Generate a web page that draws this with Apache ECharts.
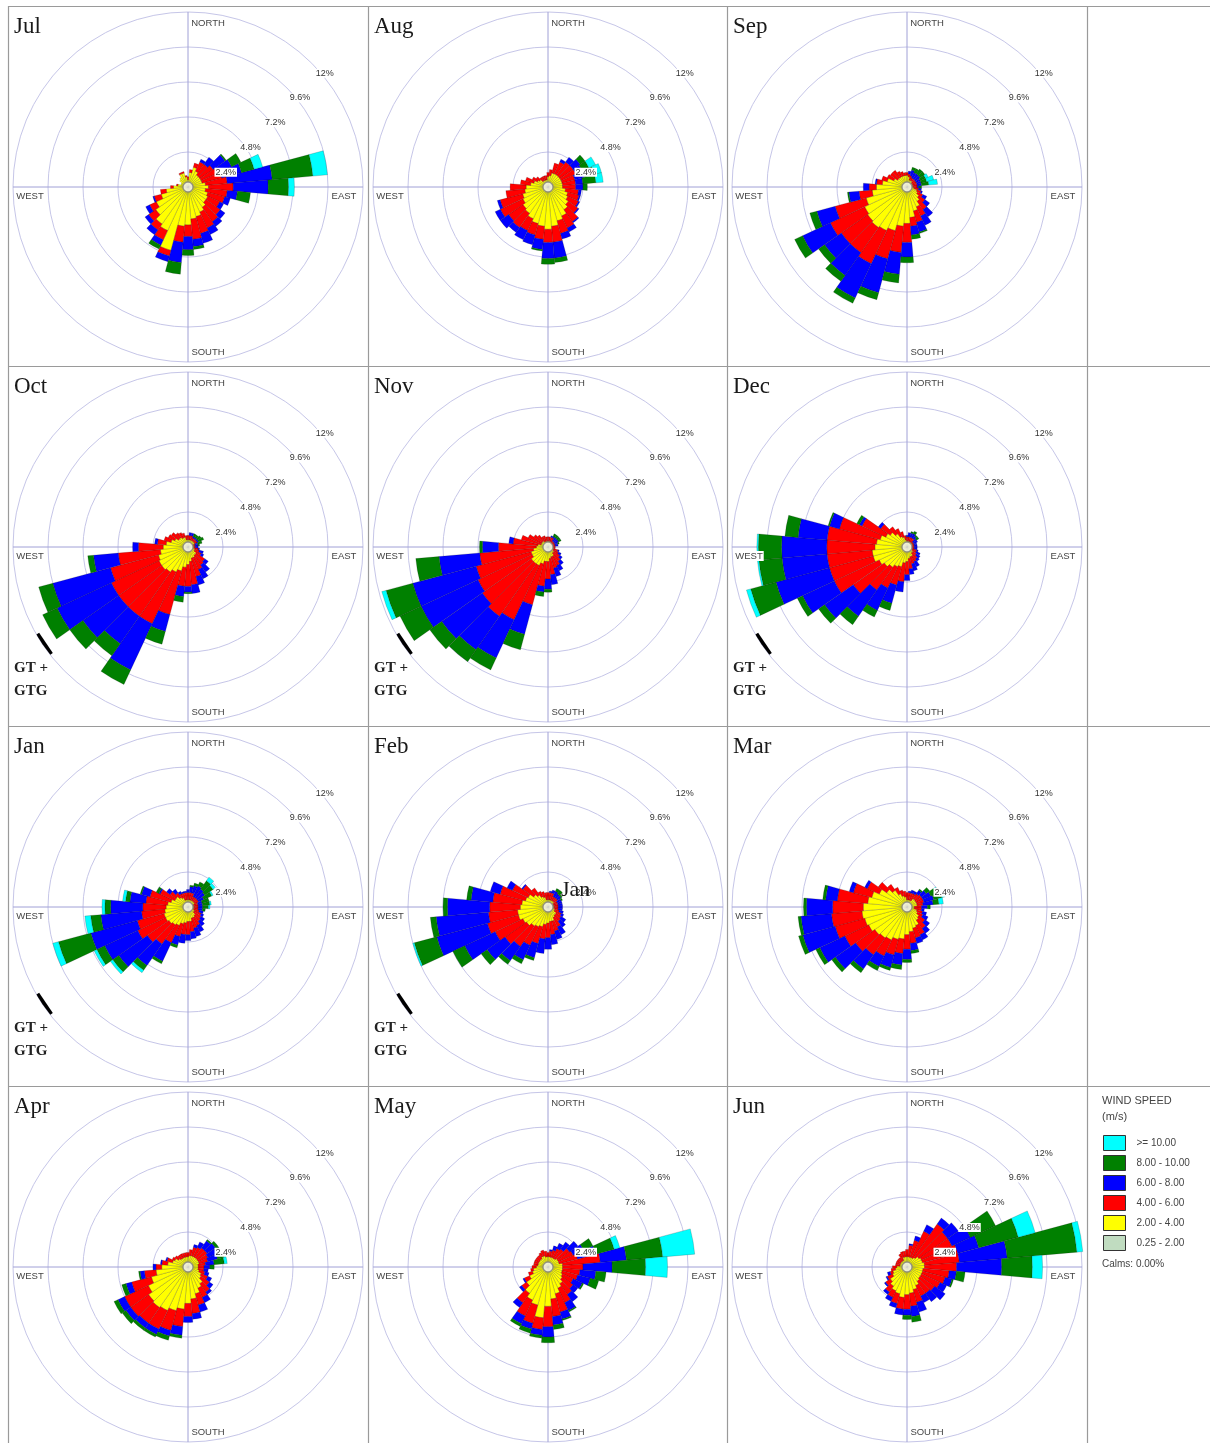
<!DOCTYPE html>
<html><head><meta charset="utf-8">
<script src="https://cdn.jsdelivr.net/npm/echarts@6/dist/echarts.min.js"></script>
<style>html,body{margin:0;padding:0;background:#fff}#c{width:1210px;height:1443px}</style>
</head><body><div id="c"></div>
<script>
// ---------------- DATA ----------------
const months = ['Jul','Aug','Sep','Oct','Nov','Dec','Jan','Feb','Mar','Apr','May','Jun'];
const directions = ['0','10','20','30','40','50','60','70','80','90','100','110','120','130','140','150','160','170',
                    '180','190','200','210','220','230','240','250','260','270','280','290','300','310','320','330','340','350'];
const speedClasses = ['0.25 - 2.00','2.00 - 4.00','4.00 - 6.00','6.00 - 8.00','8.00 - 10.00','>= 10.00'];
const legendOrder = ['>= 10.00','8.00 - 10.00','6.00 - 8.00','4.00 - 6.00','2.00 - 4.00','0.25 - 2.00'];
const ringTickLabels = ['2.4%','4.8%','7.2%','9.6%','12%'];
const compassLabels = ['NORTH','EAST','SOUTH','WEST'];
const legendTitle = ['WIND SPEED','(m/s)'];
const calmsText = 'Calms: 0.00%';
const gtText = ['GT +','GTG'];
const gtMonths = ['Oct','Nov','Dec','Jan','Feb'];
const gtMarkBearings = [232, 240];
const gtMarkRadius = 12.05;
const strayLabel = {month:'Feb', text:'Jan'};

// Per direction (0,10,...,350 deg): cumulative outer edge (%) of the 2-4, 4-6, 6-8, 8-10, >=10 classes
// (a short list means the upper classes add nothing)
const julEdges = [[0.5,0.7],[1.0,1.2],[1.4,1.7],[1.2,1.9,2.1],[1.0,1.9,2.5],[1.0,2.1,3.1,3.2],
 [1.0,2.2,3.3,4.0],[1.0,2.4,3.8,4.7,5.3],[1.2,2.7,5.8,8.6,9.6],[1.4,3.1,5.5,6.9,7.3],[1.2,2.7,3.4,4.3],[1.4,2.6,3.0],
 [1.5,2.4,2.7],[1.5,2.7,3.1],[1.7,2.9,3.3],[1.9,3.1,3.6],[2.1,3.3,4.0],[2.2,3.6,4.1,4.3],
 [2.6,3.4,4.3,4.7],[2.7,3.8,5.2,6.0],[4.5,4.9,5.3],[3.3,4.0,4.4,4.7],[3.1,3.6,4.0],[2.7,3.3,3.6],
 [2.4,2.9,3.2],[1.9,2.4,2.5],[1.5,1.9],[1.0,1.2],[0.7,0.8],[0.5],
 [0.5],[0.7],[0.8],[1.0,1.1],[1.0,1.1],[0.7,0.8]];
const augEdges = [[0.7,1.0],[0.8,1.2],[1.0,1.7],[1.0,1.9,2.1],[1.0,2.1,2.5],[1.0,2.1,2.7,3.1],
 [1.0,2.1,2.6,3.1,3.6],[1.0,1.9,2.6,3.3,3.8],[1.0,1.9,2.4,3.3,3.8],[1.0,1.9,2.4,2.7],[1.2,2.1,2.3],[1.4,2.2,2.3],
 [1.5,2.3,2.4],[1.7,2.5,2.6],[1.9,2.9,3.0],[2.2,3.1,3.4],[2.4,3.3,3.7],[2.7,3.8,4.9,5.2],
 [2.9,3.8,4.9,5.3],[2.7,3.6,4.3,4.4],[2.6,3.4,4.1],[2.4,3.3,4.0],[2.2,3.4,3.8],[2.1,3.3,4.0],
 [1.9,3.6,4.0],[1.8,3.4,3.6],[1.6,2.9],[1.5,2.6],[1.2,1.9],[1.0,1.6],
 [0.8,1.2],[0.7,1.0],[0.5,0.8],[0.5,0.8],[0.5,0.8],[0.5,0.8]];
const sepEdges = [[0.8,1.0],[0.7,0.9,1.1],[0.5,0.8,1.2,1.4],[0.5,0.7,1.1,1.4],[0.5,0.7,1.1,1.5],[0.4,0.7,1.1,1.5],
 [0.4,0.7,1.0,1.4,1.6],[0.4,0.7,1.0,1.4,1.9],[0.4,0.7,1.0,1.5,2.1],[0.4,0.7,0.8,1.0],[0.5,0.8,1.0],[0.7,1.0,1.1],
 [0.8,1.2,1.5],[1.0,1.5,1.9],[1.2,1.9,2.5],[1.5,2.2,2.9],[1.7,2.5,3.2,3.3],[2.1,2.7,3.3,3.6],
 [2.5,3.8,4.8,5.2],[2.7,4.5,6.0,6.6],[3.1,5.1,7.5,8.0],[3.3,5.8,8.4,8.8],[3.4,5.5,7.4,7.9],[3.3,5.5,6.9,7.4],
 [3.2,5.8,7.9,8.5],[2.9,5.1,6.4,6.9],[2.4,3.3,4.0,4.1],[2.1,2.6,3.0],[1.7,2.1,2.2],[1.4,1.8],
 [1.0,1.5],[0.8,1.4],[0.8,1.4],[0.8,1.2],[0.8,1.1],[0.8,1.0]];
const octEdges = [[0.5,0.8],[0.5,0.8,1.0],[0.5,0.8,1.0],[0.5,0.7,0.8,1.0],[0.5,0.7,0.8,1.0],[0.5,0.7,0.8,1.1],
 [0.5,0.7,0.8,1.2],[0.4,0.5,0.7,1.0],[0.4,0.5,0.7,0.8],[0.4,0.5,0.7],[0.4,0.7,0.8],[0.5,0.8,1.1],
 [0.5,1.0,1.2],[0.7,1.4,1.7],[0.7,1.5,2.1],[0.8,1.7,2.4],[0.8,2.1,2.7],[1.0,2.6,3.2],
 [1.2,2.7,3.1,3.2],[1.4,2.7,3.4,3.8],[1.7,4.8,6.0,6.9],[1.9,5.8,9.3,10.4],[2.1,5.8,8.1,9.1],[2.2,5.8,8.8,9.9],
 [2.2,5.8,9.9,11.0],[2.1,5.5,9.6,10.6],[1.9,4.8,6.5,6.9],[1.7,3.4,3.8],[1.5,2.1,2.3],[1.2,1.7],
 [1.0,1.5],[0.8,1.4],[0.8,1.2],[0.7,1.1],[0.7,1.0],[0.5,0.8]];
const novEdges = [[0.4,0.7],[0.4,0.7],[0.4,0.7,0.8],[0.4,0.7,0.8,1.0],[0.3,0.5,0.8,1.0],[0.3,0.5,0.8,1.0],
 [0.3,0.5,0.8,1.0],[0.3,0.5,0.7,0.8],[0.3,0.5,0.7],[0.3,0.5],[0.4,0.5],[0.4,0.7,0.8],
 [0.4,0.8,1.0],[0.5,1.0,1.2],[0.5,1.2,1.5],[0.7,1.4,1.8],[0.7,1.5,2.1],[0.8,1.9,2.6],
 [1.0,2.2,2.9,3.1],[1.0,2.7,3.1,3.4],[1.2,4.1,6.2,7.3],[1.4,5.5,8.4,9.3],[1.4,5.8,8.6,9.6],[1.4,5.5,8.9,9.9],
 [1.2,5.3,9.6,11.2],[1.2,5.1,9.6,11.5,11.8],[1.0,4.7,7.5,9.1],[0.8,3.4,4.5,4.7],[0.7,2.4,2.7],[0.5,1.9],
 [0.5,1.5],[0.5,1.2],[0.5,1.0],[0.4,0.8],[0.4,0.8],[0.4,0.7]];
const decEdges = [[0.4,0.7,0.8],[0.4,0.7,1.0],[0.4,0.7,1.0,1.1],[0.4,0.7,1.0,1.2],[0.4,0.7,0.9,1.0],[0.4,0.5,0.8,1.0],
 [0.4,0.5,0.8],[0.4,0.5,0.7],[0.3,0.5,0.7],[0.3,0.5,0.7],[0.3,0.5,0.7],[0.4,0.7,0.8],
 [0.4,0.7,1.0],[0.5,0.8,1.1],[0.5,1.0,1.2],[0.7,1.1,1.5],[0.7,1.2,1.7],[0.8,1.5,1.9],
 [1.0,1.9,2.3],[1.1,2.4,3.1],[1.4,2.7,4.0,4.5],[1.5,3.1,4.8,5.3],[1.7,3.6,5.8,6.5],[1.9,4.5,6.9,7.4],
 [2.1,5.5,7.9,8.3],[2.4,5.5,9.3,11.1,11.4],[2.4,5.5,8.6,10.2,10.3],[2.2,5.5,8.6,10.2,10.3],[2.1,5.5,7.5,8.4],[1.9,4.8,5.5,5.6],
 [1.6,3.4,3.6,3.8],[1.4,2.2,2.4],[1.1,1.7],[0.8,1.4],[0.7,1.1],[0.5,0.8]];
const janEdges = [[0.5,1.0,1.2],[0.5,1.0,1.4,1.5],[0.5,1.0,1.5,1.7],[0.5,0.8,1.6,1.9],[0.5,0.8,1.5,2.2,2.5],[0.5,0.8,1.4,2.1,2.3],
 [0.5,0.8,1.2,1.8,1.9],[0.4,0.7,1.0,1.5],[0.4,0.7,1.0,1.5,1.6],[0.4,0.7,1.0,1.4,1.5],[0.4,0.7,1.0,1.2],[0.4,0.8,1.1],
 [0.5,1.0,1.2],[0.5,1.1,1.4],[0.7,1.2,1.6],[0.8,1.4,1.9],[0.8,1.5,2.1],[1.0,1.7,2.2],
 [1.0,1.9,2.3],[1.1,1.9,2.5],[1.2,2.1,2.7,2.9],[1.4,2.7,4.1,4.3],[1.5,3.1,4.9,5.3,5.5],[1.6,3.4,5.8,6.3,6.5],
 [1.7,3.8,6.3,6.9,7.1],[1.7,3.6,6.9,9.2,9.6],[1.6,3.2,6.0,6.7,7.1],[1.5,3.1,5.3,5.7,5.9],[1.4,2.9,4.0,4.3,4.5],[1.2,2.7,3.3,3.4],
 [1.0,2.1,2.2,2.4],[1.0,1.5,1.8],[0.8,1.2,1.5],[0.7,1.0,1.2],[0.5,1.0,1.1],[0.5,1.0,1.1]];
const febEdges = [[0.5,1.0],[0.5,1.0,1.1],[0.5,1.0,1.2],[0.5,0.8,1.2,1.4],[0.5,0.8,1.1,1.4],[0.5,0.8,1.1,1.2],
 [0.4,0.7,1.0,1.1],[0.4,0.7,1.0],[0.4,0.7,1.0],[0.4,0.7,1.0],[0.4,0.7,1.0],[0.5,0.8,1.1],
 [0.5,1.0,1.2],[0.7,1.1,1.5],[0.7,1.2,1.7],[0.8,1.5,2.1],[1.0,1.7,2.3],[1.0,1.9,2.6],
 [1.1,2.1,2.9],[1.2,2.2,3.2],[1.4,2.6,3.6,3.8],[1.5,2.9,4.0,4.3],[1.6,3.3,4.5,4.8],[1.8,3.6,5.1,5.6],
 [1.9,4.0,6.3,7.2],[2.1,4.3,7.9,9.5,9.6],[2.1,4.1,7.7,8.1],[1.9,4.0,6.9,7.2],[1.8,3.8,5.3,5.6],[1.6,3.4,4.1],
 [1.5,2.7,3.1],[1.2,2.1,2.2],[1.0,1.6],[0.8,1.2],[0.7,1.1],[0.5,1.0]];
const marEdges = [[0.5,1.0],[0.5,1.0,1.1],[0.5,1.0,1.2],[0.5,1.0,1.2],[0.7,1.1,1.4,1.5],[0.7,1.2,1.6,1.9],
 [0.7,1.2,1.8,2.2,2.4],[0.7,1.2,1.9,2.5,2.7],[0.7,1.1,1.8,2.2,2.5],[0.5,1.0,1.4,1.6],[0.5,1.0,1.2],[0.7,1.1,1.4],
 [0.8,1.2,1.6],[1.0,1.5,1.9],[1.1,1.8,2.2],[1.4,2.1,2.5],[1.5,2.2,2.6],[1.7,2.5,3.0,3.2],
 [1.9,2.9,3.6,3.8],[2.2,3.2,4.0,4.3],[2.3,3.4,4.3,4.5],[2.5,3.7,4.5,4.8],[2.6,4.0,5.2,5.5],[2.7,4.3,6.0,6.3],
 [2.9,4.7,6.6,6.9],[3.0,5.1,7.4,7.7],[3.1,5.2,7.3,7.5],[3.0,5.1,6.9,7.1],[2.7,4.8,5.6,5.8],[2.5,3.8,4.1],
 [2.1,3.0,3.2],[1.7,2.4],[1.4,1.9],[1.0,1.5],[0.8,1.2],[0.7,1.1]];
const aprEdges = [[0.7,1.0],[0.8,1.2],[0.8,1.4,1.6],[0.8,1.5,1.9],[0.8,1.6,2.2,2.3],[0.8,1.6,2.3,2.5],
 [0.8,1.5,2.2,2.5],[0.8,1.4,2.1,2.6,2.7],[0.7,1.2,1.8,2.5,2.7],[0.7,1.1,1.5,1.8],[0.7,1.1,1.4],[0.8,1.2,1.5],
 [1.0,1.5,1.8],[1.1,1.8,2.1],[1.4,2.1,2.3],[1.6,2.3,2.7],[1.9,2.7,3.2],[2.2,3.2,3.6],
 [2.5,3.4,3.8],[2.9,4.1,4.7,4.9],[3.1,4.5,4.9,5.2],[3.3,4.7,5.1,5.3],[3.4,4.7,5.1,5.3],[3.3,4.8,5.2,5.5],
 [3.0,4.8,5.3,5.6],[2.6,4.0,4.4,4.7],[2.2,3.0,3.3,3.4],[1.8,2.2,2.4],[1.4,1.8,1.9],[1.1,1.5,1.6],
 [1.0,1.2],[0.8,1.1],[0.7,1.0],[0.7,1.0],[0.7,1.0],[0.7,1.0]];
const mayEdges = [[0.7,1.0],[0.7,1.1,1.2],[0.7,1.2,1.5],[0.7,1.4,1.8],[0.7,1.5,2.1],[0.8,1.8,2.5],
 [0.8,1.9,2.7,3.4],[0.8,2.1,3.4,4.7,5.1],[1.0,3.6,5.4,7.9,10.1],[1.0,2.4,4.4,6.7,8.2],[1.0,2.2,3.3,4.0],[1.0,2.1,3.0,3.6],
 [1.1,1.9,2.6,2.7],[1.2,2.1,2.5],[1.4,2.3,2.9],[1.6,2.7,3.3,3.4],[1.9,3.2,3.7,3.8],[2.2,3.4,4.0,4.3],
 [2.7,4.1,4.8,5.2],[3.5,4.3,4.7,4.9],[2.7,4.0,4.4,4.7],[2.5,3.7,4.3,4.5],[2.2,3.0,3.4],[1.8,2.2,2.4],
 [1.4,1.8,1.9],[1.1,1.4],[1.0,1.2],[0.8,1.1],[0.7,1.0],[0.7,1.0],
 [0.7,1.0],[0.7,1.0],[0.7,1.0],[0.8,1.1],[0.8,1.2],[0.7,1.1]];
const junEdges = [[0.7,1.2],[0.7,1.5,1.6],[0.7,1.9,2.2],[0.7,2.7,3.2],[0.8,3.6,4.1],[1.0,3.4,4.3],
 [1.1,3.4,4.8,6.7],[1.1,3.6,5.1,7.9,9.1],[1.2,3.6,6.9,11.7,12.1],[1.2,3.4,6.5,8.6,9.3],[1.1,2.9,3.4,4.0],[1.1,2.7,3.2,3.3],
 [1.1,2.5,3.0],[1.1,2.3,3.2],[1.2,2.2,2.9],[1.4,2.2,2.7],[1.6,2.5,3.2],[1.8,2.7,3.4,3.8],
 [1.9,2.9,3.3,3.6],[2.1,2.9,3.3],[1.9,2.6,2.9],[1.8,2.3,2.6],[1.6,2.1,2.3],[1.4,1.8,1.9],
 [1.1,1.5,1.6],[1.0,1.2,1.4],[0.8,1.1],[0.7,1.0],[0.5,0.8],[0.5,0.8],
 [0.5,0.8],[0.5,0.8],[0.5,0.8],[0.5,1.0],[0.7,1.1],[0.7,1.1]];

// ---------------- STYLE / LAYOUT ----------------
const edgesByMonth = [julEdges,augEdges,sepEdges,octEdges,novEdges,decEdges,janEdges,febEdges,marEdges,aprEdges,mayEdges,junEdges];
const classColors = ['#c0dcc0','#ffff00','#ff0000','#0000ff','#008000','#00ffff'];
const colCenters = [188, 548, 907];
const rowCenters = [187, 547, 907, 1267];
const panelLeft = [8, 368, 727];
const panelTop = [6, 366, 726, 1086];
const R = 175;
const SANS = 'Liberation Sans, Arial, sans-serif';
const SERIF = 'Liberation Serif, Times New Roman, serif';

function classIncrements(edges) {
  const out = speedClasses.map(() => []);
  edges.forEach(e => {
    out[0].push(null);
    let prev = 0;
    for (let k = 0; k < 5; k++) {
      const v = k < e.length ? e[k] : e[e.length - 1];
      const d = +(v - prev).toFixed(3);
      out[k + 1].push(d > 0 ? d : null);
      prev = v;
    }
  });
  return out;
}

const polar = [], angleAxis = [], radiusAxis = [], series = [], graphic = [];

// panel borders
[8, 368, 727, 1087].forEach(x => graphic.push({type:'line', silent:true, z:1,
  shape:{x1:x+0.5, y1:6, x2:x+0.5, y2:1443}, style:{stroke:'#9a9a9a', lineWidth:1.2}}));
[6, 366, 726, 1086].forEach(y => graphic.push({type:'line', silent:true, z:1,
  shape:{x1:8, y1:y+0.5, x2:1210, y2:y+0.5}, style:{stroke:'#9a9a9a', lineWidth:1.2}}));

months.forEach((m, p) => {
  const col = p % 3, row = Math.floor(p / 3);
  const cx = colCenters[col], cy = rowCenters[row];
  const g = 3 * p, a = 3 * p + 1, b = 3 * p + 2;

  // grid polar (rings + cross lines)
  polar.push({center:[cx, cy], radius:R});
  angleAxis.push({polarIndex:g, type:'value', min:0, max:360, interval:90, startAngle:90, clockwise:true,
    axisLine:{show:false}, axisTick:{show:false}, axisLabel:{show:false},
    splitLine:{show:true, lineStyle:{color:'#a0a0d6', width:1}}});
  radiusAxis.push({polarIndex:g, type:'value', min:0, max:12, interval:2.4,
    axisLine:{show:false}, axisTick:{show:false}, axisLabel:{show:false},
    splitLine:{show:true, lineStyle:{color:'#c6c6e8', width:1}}});

  // bar polar
  polar.push({center:[cx, cy], radius:R});
  angleAxis.push({polarIndex:a, type:'category', data:directions, startAngle:95, clockwise:true, boundaryGap:true,
    axisLine:{show:false}, axisTick:{show:false}, axisLabel:{show:false}, splitLine:{show:false}});
  radiusAxis.push({polarIndex:a, type:'value', min:0, max:12,
    axisLine:{show:false}, axisTick:{show:false}, axisLabel:{show:false}, splitLine:{show:false}});

  // ring-label polar
  polar.push({center:[cx + 13, cy + 10], radius:R});
  angleAxis.push({polarIndex:b, type:'value', min:0, max:360, startAngle:45, clockwise:true,
    axisLine:{show:false}, axisTick:{show:false}, axisLabel:{show:false}, splitLine:{show:false}});
  radiusAxis.push({polarIndex:b, type:'value', min:0, max:12, interval:2.4, z:10,
    axisLine:{show:false}, axisTick:{show:false}, splitLine:{show:false},
    axisLabel:{show:true, showMinLabel:false, margin:0, align:'center', verticalAlign:'middle',
      fontSize:9, fontFamily:SANS, color:'#333', backgroundColor:'#fff', padding:[0,1],
      formatter:(v, i) => i > 0 ? (ringTickLabels[i - 1] || '') : ''}});

  // stacked bars
  const inc = classIncrements(edgesByMonth[p]);
  speedClasses.forEach((name, k) => {
    series.push({type:'bar', name, coordinateSystem:'polar', polarIndex:a, stack:'ws' + p,
      data:inc[k], barCategoryGap:'0%', clip:false, silent:true, z:2,
      itemStyle:{color:classColors[k], borderColor:'rgba(0,0,0,0.35)', borderWidth:0.5}});
  });

  // calm circle
  series.push({type:'scatter', coordinateSystem:'polar', polarIndex:g, data:[[0, 0]], symbolSize:10, silent:true, z:6,
    itemStyle:{color:'#fff', borderColor:'#808080', borderWidth:1.3}});

  // GT + GTG mark
  if (gtMonths.includes(m)) {
    series.push({type:'line', coordinateSystem:'polar', polarIndex:g, silent:true, z:6, symbol:'none', clip:false,
      data:gtMarkBearings.map(bb => [gtMarkRadius, bb]), lineStyle:{color:'#000', width:8, cap:'butt'}});
    gtText.forEach((t, i) => graphic.push({type:'text', x:cx - 174, y:cy + 121 + 23 * i, z:20, silent:true,
      style:{text:t, fontSize:15, fontWeight:'bold', fontFamily:SERIF, fill:'#222', align:'left', verticalAlign:'middle'}}));
  }

  // month title
  graphic.push({type:'text', x:panelLeft[col] + 6, y:panelTop[row] + 21, z:20, silent:true,
    style:{text:m, fontSize:23, fontFamily:SERIF, fill:'#1a1a1a', align:'left', verticalAlign:'middle'}});

  // compass labels
  const cpos = [[cx + 20, cy - 164], [cx + 156, cy + 9], [cx + 20, cy + 165], [cx - 158, cy + 9]];
  compassLabels.forEach((t, i) => graphic.push({type:'text', x:cpos[i][0], y:cpos[i][1], z:20, silent:true,
    style:{text:t, fontSize:9.5, fontFamily:SANS, fill:'#444', align:'center', verticalAlign:'middle',
      backgroundColor:'#fff', padding:[0,1]}}));

  if (strayLabel.month === m) {
    graphic.push({type:'text', x:cx + 13, y:cy - 17, z:20, silent:true,
      style:{text:strayLabel.text, fontSize:22, fontFamily:SERIF, fill:'#1a1a1a', align:'left', verticalAlign:'middle'}});
  }
});

// legend texts
graphic.push({type:'text', x:1102, y:1101, z:20, silent:true,
  style:{text:legendTitle[0], fontSize:11, fontFamily:SANS, fill:'#444', align:'left', verticalAlign:'middle'}});
graphic.push({type:'text', x:1102, y:1117, z:20, silent:true,
  style:{text:legendTitle[1], fontSize:11, fontFamily:SANS, fill:'#444', align:'left', verticalAlign:'middle'}});
graphic.push({type:'text', x:1102, y:1264, z:20, silent:true,
  style:{text:calmsText, fontSize:10, fontFamily:SANS, fill:'#444', align:'left', verticalAlign:'middle'}});

const chart = echarts.init(document.getElementById('c'), null, {renderer:'canvas'});
chart.setOption({
  animation:false,
  backgroundColor:'#fff',
  polar, angleAxis, radiusAxis, series, graphic,
  legend:{data:legendOrder, orient:'vertical', left:1103, top:1135, padding:0, itemWidth:22, itemHeight:15, itemGap:4,
    selectedMode:false, icon:'rect', itemStyle:{borderColor:'#333', borderWidth:1},
    textStyle:{fontSize:10, fontFamily:SANS, color:'#444', lineHeight:15, padding:[0,0,0,6]}}
});
</script></body></html>
